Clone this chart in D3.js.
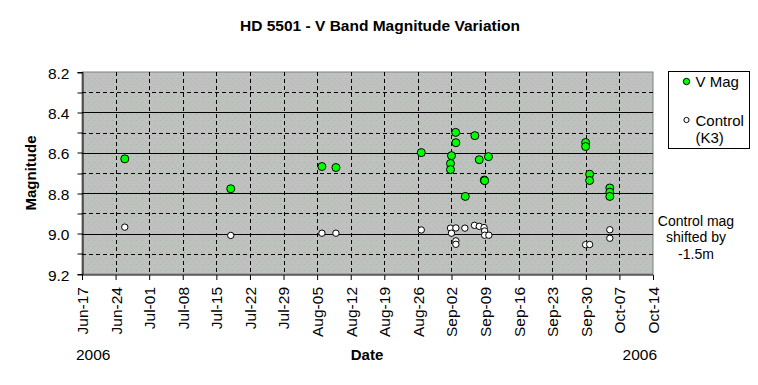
<!DOCTYPE html>
<html>
<head>
<meta charset="utf-8">
<script src="https://cdn.jsdelivr.net/npm/d3@7"></script>
<style>
  body { margin: 0; background: #fff; }
  svg text { font-family: Arial, "Liberation Sans", sans-serif; fill: #000; }
</style>
</head>
<body>
<div id="chart"></div>
<script>
// V band magnitude of HD 5501 (date, mag)
var vDates = ['2006-06-25T22:00', '2006-07-18T00:00', '2006-08-06T00:00', '2006-08-08T22:00',
  '2006-08-26T17:00', '2006-09-02T21:00', '2006-09-02T22:00', '2006-09-02T00:00', '2006-09-01T19:00',
  '2006-09-01T19:00', '2006-09-06T21:00', '2006-09-07T19:00', '2006-09-09T17:00', '2006-09-08T20:00',
  '2006-09-08T22:00', '2006-09-04T21:00', '2006-09-29T23:00', '2006-09-29T23:00', '2006-09-30T19:00',
  '2006-09-30T19:00', '2006-10-05T00:00', '2006-10-05T00:00', '2006-10-05T00:00'];
var vMags = [8.630, 8.778, 8.668, 8.673,
  8.599, 8.499, 8.550, 8.614, 8.653,
  8.683, 8.515, 8.634, 8.619, 8.735,
  8.738, 8.816, 8.549, 8.569, 8.706,
  8.737, 8.774, 8.795, 8.816];

// control star (K3), shifted by -1.5m
var cDates = ['2006-06-25T22:00', '2006-07-18T00:00', '2006-08-06T00:00', '2006-08-08T22:00',
  '2006-08-26T17:00', '2006-09-01T19:00', '2006-09-02T22:00', '2006-09-02T00:00', '2006-09-04T19:00',
  '2006-09-06T19:00', '2006-09-07T19:00', '2006-09-08T19:00', '2006-09-08T22:00', '2006-09-08T22:00',
  '2006-09-09T19:00', '2006-09-02T22:00', '2006-09-02T22:00', '2006-09-29T23:00', '2006-09-30T19:00',
  '2006-10-05T00:00', '2006-10-05T00:00'];
var cMags = [8.968, 9.009, 8.998, 8.998,
  8.982, 8.973, 8.972, 8.998, 8.973,
  8.959, 8.964, 8.970, 8.987, 9.008,
  9.008, 9.036, 9.053, 9.055, 9.054,
  8.981, 9.023];

var yTicks = [8.2, 8.4, 8.6, 8.8, 9.0, 9.2];
var yMinor = [8.3, 8.5, 8.7, 8.9, 9.1];
var xStart = '2006-06-17', xEnd = '2006-10-14';

var W = 758, H = 385;
var margin = { left: 82, top: 72, right: 105, bottom: 111 };
var iw = W - margin.left - margin.right, ih = H - margin.top - margin.bottom;

var parse = d3.isoParse;
var fmt = d3.timeFormat('%b-%d');

var x = d3.scaleTime().domain([parse(xStart), parse(xEnd)]).range([0, iw]);
var y = d3.scaleLinear().domain([8.2, 9.2]).range([0, ih]);

var svg = d3.select('#chart').append('svg').attr('width', W).attr('height', H);

var defs = svg.append('defs');
var pat = defs.append('pattern').attr('id', 'bgdots')
  .attr('width', 6).attr('height', 6).attr('patternUnits', 'userSpaceOnUse');
pat.append('rect').attr('width', 6).attr('height', 6).attr('fill', '#c0c0c0');
pat.append('rect').attr('x', 0).attr('y', 0).attr('width', 1).attr('height', 1).attr('fill', '#98c098');
pat.append('rect').attr('x', 3).attr('y', 3).attr('width', 1).attr('height', 1).attr('fill', '#a8c4a8');

svg.append('text').attr('x', 380).attr('y', 31).attr('text-anchor', 'middle')
  .style('font-size', '15.5px').style('font-weight', 'bold')
  .text('HD 5501 - V Band Magnitude Variation');

var g = svg.append('g').attr('transform', 'translate(' + margin.left + ',' + margin.top + ')');

g.append('rect').attr('width', iw).attr('height', ih).attr('fill', 'url(#bgdots)')
  .attr('stroke', '#808080').attr('stroke-width', 1);

var weeks = d3.range(0, 18).map(function(i) { return d3.timeDay.offset(parse(xStart), i * 7); });

// grid
g.append('g').selectAll('line').data(weeks.slice(1, -1)).join('line')
  .attr('x1', function(d) { return Math.round(x(d)) + 0.5; })
  .attr('x2', function(d) { return Math.round(x(d)) + 0.5; })
  .attr('y1', 0).attr('y2', ih)
  .attr('stroke', '#000').attr('stroke-dasharray', '4,3');
g.append('g').selectAll('line').data(yMinor).join('line')
  .attr('x1', 0).attr('x2', iw)
  .attr('y1', function(d) { return Math.round(y(d)) + 0.5; })
  .attr('y2', function(d) { return Math.round(y(d)) + 0.5; })
  .attr('stroke', '#000').attr('stroke-dasharray', '4,3');
g.append('g').selectAll('line').data(yTicks.slice(1, -1)).join('line')
  .attr('x1', 0).attr('x2', iw)
  .attr('y1', function(d) { return Math.round(y(d)) + 0.5; })
  .attr('y2', function(d) { return Math.round(y(d)) + 0.5; })
  .attr('stroke', '#000');

// axes
var yAxis = d3.axisLeft(y).tickValues(yTicks.concat(yMinor)).tickSize(5)
  .tickFormat(function(d) { return yTicks.indexOf(d) >= 0 ? d3.format('.1f')(d) : ''; });
var ya = g.append('g').attr('transform', 'translate(0.5,0)').call(yAxis);
ya.selectAll('text').style('font-size', '15.5px').attr('x', -13).attr('dy', '0.36em');

var xAxis = d3.axisBottom(x).tickValues(weeks).tickSize(5).tickFormat(fmt);
var xa = g.append('g').attr('transform', 'translate(0,' + (ih + 0.5) + ')').call(xAxis);
xa.selectAll('text').style('font-size', '15.5px')
  .attr('transform', 'rotate(-90)').attr('text-anchor', 'end')
  .attr('x', -12).attr('y', 0).attr('dy', '0.35em');
[ya, xa].forEach(function(a) {
  a.select('.domain').attr('stroke', '#000');
  a.selectAll('.tick line').attr('stroke', '#000');
  a.selectAll('.tick').attr('transform', function() {
    return d3.select(this).attr('transform').replace(/([\d.]+)\)$/, function(m, v) {
      return (Math.round(+v) + (a === ya ? 0 : 0.5)) + ')';
    });
  });
});

// points
var cData = cDates.map(function(d, i) { return { t: parse(d), m: cMags[i] }; });
var vData = vDates.map(function(d, i) { return { t: parse(d), m: vMags[i] }; });

g.append('g').selectAll('circle').data(cData).join('circle')
  .attr('cx', function(d) { return x(d.t); }).attr('cy', function(d) { return y(d.m); })
  .attr('r', 3.2).attr('fill', '#fff').attr('stroke', '#000').attr('stroke-width', 1);
g.append('g').selectAll('circle').data(vData).join('circle')
  .attr('cx', function(d) { return x(d.t); }).attr('cy', function(d) { return y(d.m); })
  .attr('r', 4).attr('fill', '#00ff00').attr('stroke', '#000').attr('stroke-width', 1);

// axis titles
svg.append('text').attr('transform', 'translate(36,173) rotate(-90)').attr('text-anchor', 'middle')
  .style('font-size', '15px').style('font-weight', 'bold').text('Magnitude');
svg.append('text').attr('x', 367).attr('y', 360).attr('text-anchor', 'middle')
  .style('font-size', '15px').style('font-weight', 'bold').text('Date');
svg.append('text').attr('x', 76).attr('y', 360).style('font-size', '15.5px').text('2006');
svg.append('text').attr('x', 657).attr('y', 360).attr('text-anchor', 'end').style('font-size', '15.5px').text('2006');

// legend
var lg = svg.append('g').attr('transform', 'translate(668.5,71.5)');
lg.append('rect').attr('width', 81).attr('height', 77).attr('fill', '#fff').attr('stroke', '#000');
lg.append('circle').attr('cx', 18).attr('cy', 10).attr('r', 3.2).attr('fill', '#00ff00').attr('stroke', '#000');
lg.append('text').attr('x', 27).attr('y', 15.5).style('font-size', '15px').text('V Mag');
lg.append('circle').attr('cx', 18).attr('cy', 48.5).attr('r', 2.6).attr('fill', '#fff').attr('stroke', '#000');
lg.append('text').attr('x', 27).attr('y', 54).style('font-size', '15px').text('Control');
lg.append('text').attr('x', 27).attr('y', 71.5).style('font-size', '15px').text('(K3)');

// note
var note = ['Control mag', 'shifted by', '-1.5m'];
svg.append('g').selectAll('text').data(note).join('text')
  .attr('x', 696).attr('y', function(d, i) { return 225.5 + i * 16.7; })
  .attr('text-anchor', 'middle').style('font-size', '14px').text(function(d) { return d; });
</script>
</body>
</html>
